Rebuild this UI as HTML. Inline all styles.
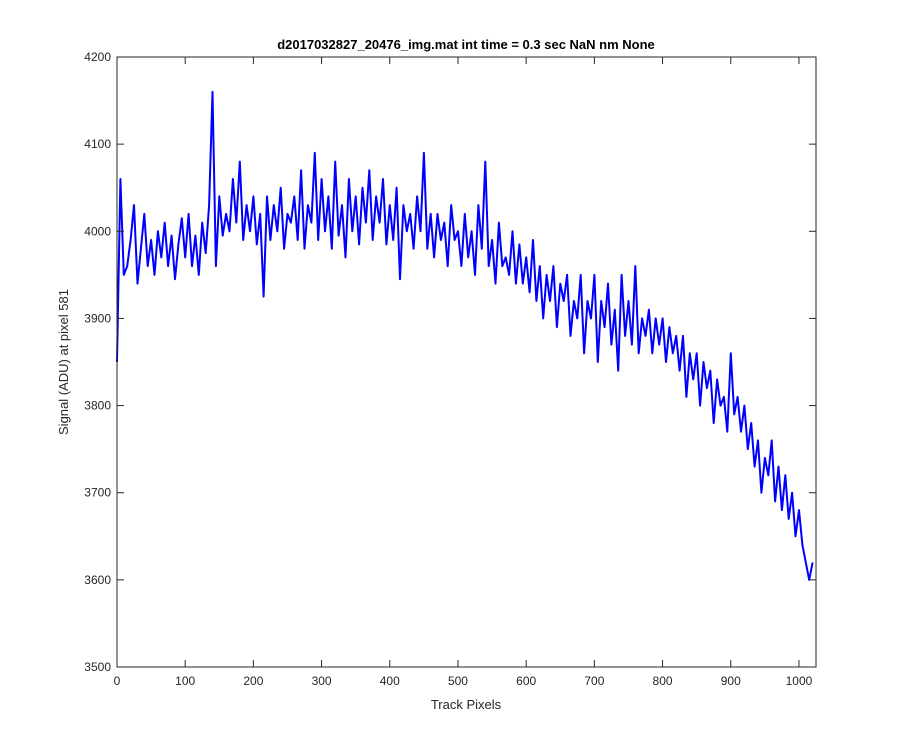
<!DOCTYPE html>
<html><head><meta charset="utf-8"><style>
body{margin:0;background:#fff;}
svg text{font-family:"Liberation Sans",Arial,sans-serif;}
</style></head><body>
<svg id="chart" width="900" height="750">
<rect x="0" y="0" width="900" height="750" fill="#fff"/>
<rect x="117" y="57" width="699" height="610" fill="#fff"/>
<g id="series"></g>
<g id="axes"></g>
<rect x="117" y="57" width="699" height="610" fill="none" stroke="#262626" stroke-width="1"/>
<text x="466" y="49" text-anchor="middle" font-size="13" font-weight="bold" fill="#000">d2017032827_20476_img.mat int time = 0.3 sec  NaN nm None</text>
<text x="466" y="709" text-anchor="middle" font-size="13" fill="#262626">Track Pixels</text>
<text transform="translate(68,362) rotate(-90)" text-anchor="middle" font-size="13" fill="#262626">Signal (ADU) at pixel 581</text>
</svg>
<script>
const xTicks=[0,100,200,300,400,500,600,700,800,900,1000];
const yTicks=[3500,3600,3700,3800,3900,4000,4100,4200];
const step=5;
const signal=[
3850,4060,3950,3960,3990,4030,3940,3980,4020,3960,3990,3950,4000,3970,4010,3960,3995,3945,3985,4015,
3970,4020,3960,3995,3950,4010,3975,4030,4160,3960,4040,3995,4020,4000,4060,4010,4080,3990,4030,4000,
4040,3985,4020,3925,4040,3990,4030,4000,4050,3980,4020,4010,4040,3990,4070,3980,4030,4010,4090,3990,
4060,4000,4040,3980,4080,3995,4030,3970,4060,4000,4040,3985,4050,4010,4070,3990,4040,4010,4060,3985,
4030,3990,4050,3945,4030,4000,4020,3980,4040,4000,4090,3980,4020,3970,4020,3990,4010,3960,4030,3990,
4000,3960,4020,3970,4000,3950,4030,3980,4080,3960,3990,3940,4010,3960,3970,3950,4000,3940,3985,3940,
3970,3930,3990,3920,3960,3900,3950,3920,3960,3890,3940,3920,3950,3880,3920,3900,3950,3860,3920,3900,
3950,3850,3920,3890,3940,3870,3910,3840,3950,3880,3920,3870,3960,3860,3900,3880,3910,3860,3900,3870,
3900,3850,3890,3860,3880,3840,3880,3810,3860,3830,3860,3800,3850,3820,3840,3780,3830,3800,3810,3770,
3860,3790,3810,3770,3800,3750,3780,3730,3760,3700,3740,3720,3760,3690,3730,3680,3720,3670,3700,3650,
3680,3640,3620,3600,3620];
const X0=117,X1=816,Y0=667,Y1=57,XMIN=0,XMAX=1025,YMIN=3500,YMAX=4200;
function sx(v){return X0+(v-XMIN)/(XMAX-XMIN)*(X1-X0);}
function sy(v){return Y0-(v-YMIN)/(YMAX-YMIN)*(Y0-Y1);}
const NS="http://www.w3.org/2000/svg";
const axes=document.getElementById('axes');
xTicks.forEach(t=>{
  const x=sx(t);
  [[Y0,Y0-7],[Y1,Y1+7]].forEach(p=>{
    const l=document.createElementNS(NS,'line');
    l.setAttribute('x1',x);l.setAttribute('x2',x);l.setAttribute('y1',p[0]);l.setAttribute('y2',p[1]);
    l.setAttribute('stroke','#262626');
    
    
    axes.appendChild(l);
  });
  const tx=document.createElementNS(NS,'text');
  tx.setAttribute('x',x);tx.setAttribute('y',Y0+18);tx.setAttribute('text-anchor','middle');
  tx.setAttribute('font-size','12');tx.setAttribute('fill','#262626');
  tx.textContent=t;
  
  
  axes.appendChild(tx);
});
yTicks.forEach(t=>{
  const y=sy(t);
  [[X0,X0+7],[X1,X1-7]].forEach(p=>{
    const l=document.createElementNS(NS,'line');
    l.setAttribute('x1',p[0]);l.setAttribute('x2',p[1]);l.setAttribute('y1',y);l.setAttribute('y2',y);
    l.setAttribute('stroke','#262626');
    
    
    axes.appendChild(l);
  });
  const tx=document.createElementNS(NS,'text');
  tx.setAttribute('x',X0-6);tx.setAttribute('y',y+4);tx.setAttribute('text-anchor','end');
  tx.setAttribute('font-size','12');tx.setAttribute('fill','#262626');
  tx.textContent=t;
  
  
  axes.appendChild(tx);
});
const pts=signal.map((v,i)=>sx(i*step).toFixed(1)+','+sy(v).toFixed(1)).join(' ');
const pl=document.createElementNS(NS,'polyline');
pl.setAttribute('points',pts);pl.setAttribute('fill','none');pl.setAttribute('stroke','#0000ff');pl.setAttribute('stroke-width','2');pl.setAttribute('stroke-linejoin','round');


document.getElementById('series').appendChild(pl);
</script>
</body></html>
